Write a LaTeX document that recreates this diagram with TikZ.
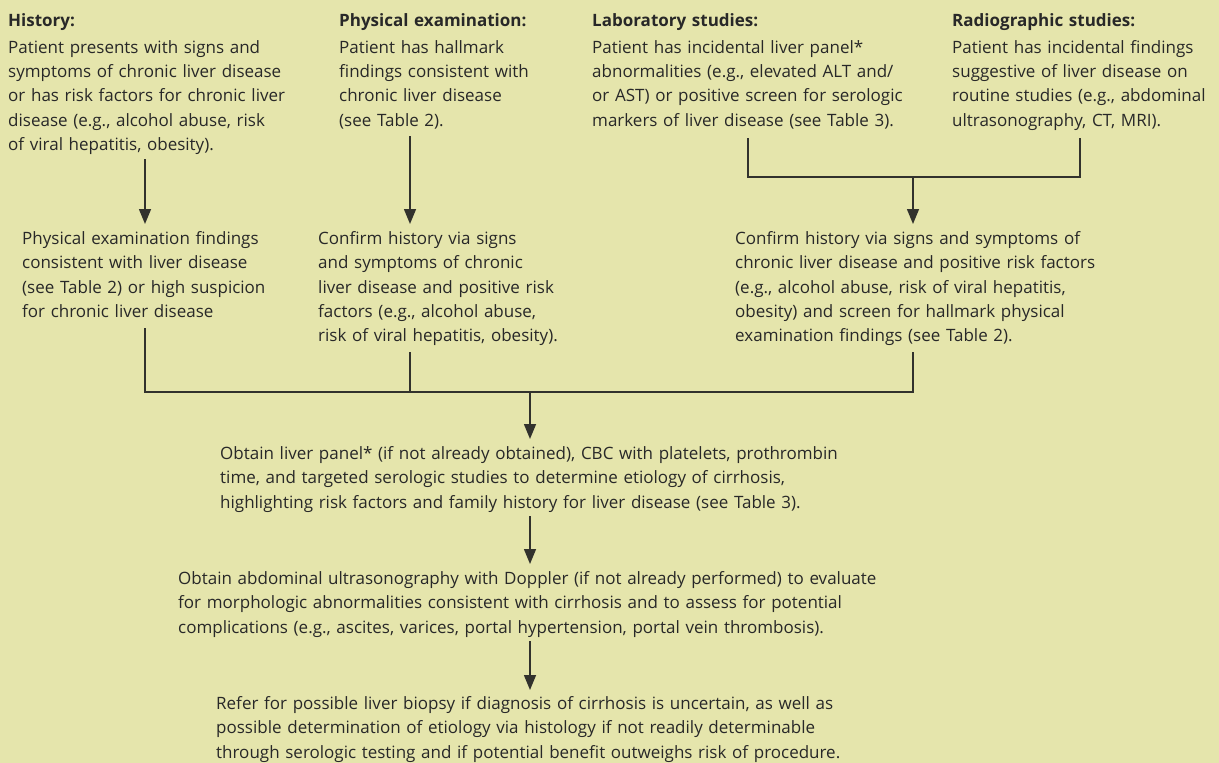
\documentclass[tikz,border=0pt]{standalone}
\usepackage{fontspec}
\setmainfont{Open Sans}
\usetikzlibrary{arrows.meta}
\definecolor{bg}{RGB}{229,229,172}
\definecolor{txt}{RGB}{40,40,40}
\definecolor{ln}{RGB}{50,50,45}
\tikzset{
  txtblock/.style={anchor=base west, inner sep=0pt, align=left, text width=#1,
    text=txt, font=\fontsize{17}{24.25}\selectfont},
  txtblock/.default=460pt,
  conn/.style={draw=ln, line width=1.5pt},
  arr/.style={conn, -{Triangle[length=15pt,width=12pt]}},
}
\newcommand{\hd}[1]{\textbf{#1}\\[2.35pt]}
\begin{document}
\begin{tikzpicture}[x=1pt,y=-1pt]
\path[use as bounding box, fill=bg] (0,0) rectangle (1219,763);

% top row
\node[txtblock=320pt] (hist) at (8,26.7) {\hd{History:}Patient presents with signs and\\symptoms of chronic liver disease\\or has risk factors for chronic liver\\disease (e.g., alcohol abuse, risk\\of viral hepatitis, obesity).};
\node[txtblock=240pt] (phys) at (339,26.7) {\hd{Physical examination:}Patient has hallmark\\findings consistent with\\chronic liver disease\\(see Table 2).};
\node[txtblock=340pt] (lab) at (592,26.7) {\hd{Laboratory studies:}Patient has incidental liver panel*\\abnormalities (e.g., elevated ALT and/\\or AST) or positive screen for serologic\\markers of liver disease (see Table 3).};
\node[txtblock=265pt] (rad) at (952,26.7) {\hd{Radiographic studies:}Patient has incidental findings\\suggestive of liver disease on\\routine studies (e.g., abdominal\\ultrasonography, CT, MRI).};

% second row
\node[txtblock=300pt] (pe) at (22,244.5) {Physical examination findings\\consistent with liver disease\\(see Table 2) or high suspicion\\for chronic liver disease};
\node[txtblock=300pt] (ch) at (318,244.5) {Confirm history via signs\\and symptoms of chronic\\liver disease and positive risk\\factors (e.g., alcohol abuse,\\risk of viral hepatitis, obesity).};
\node[txtblock=440pt] (cr) at (735,244.5) {Confirm history via signs and symptoms of\\chronic liver disease and positive risk factors\\(e.g., alcohol abuse, risk of viral hepatitis,\\obesity) and screen for hallmark physical\\examination findings (see Table 2).};

% lower blocks
\node[txtblock=800pt] (panel) at (220,459.5) {Obtain liver panel* (if not already obtained), CBC with platelets, prothrombin\\time, and targeted serologic studies to determine etiology of cirrhosis,\\highlighting risk factors and family history for liver disease (see Table 3).};
\node[txtblock=860pt] (us) at (178,584.5) {Obtain abdominal ultrasonography with Doppler (if not already performed) to evaluate\\for morphologic abnormalities consistent with cirrhosis and to assess for potential\\complications (e.g., ascites, varices, portal hypertension, portal vein thrombosis).};
\node[txtblock=800pt] (bx) at (216,709.5) {Refer for possible liver biopsy if diagnosis of cirrhosis is uncertain, as well as\\possible determination of etiology via histology if not readily determinable\\through serologic testing and if potential benefit outweighs risk of procedure.};

% connector coordinates
\coordinate (h1) at (145,159);   \coordinate (h2) at (145,224);
\coordinate (p1) at (410,136);   \coordinate (p2) at (410,224);
\coordinate (l1) at (748,138);   \coordinate (r1) at (1080,138);
\coordinate (lr) at (913,177);   \coordinate (lr2) at (913,224);
\coordinate (b1) at (145,328);   \coordinate (b2) at (410,352);
\coordinate (b3) at (913,352);   \coordinate (bm) at (530,392);
\coordinate (bm2) at (530,439);
\coordinate (c1) at (530,516);   \coordinate (c2) at (530,564);
\coordinate (d1) at (530,641);   \coordinate (d2) at (530,690);

\draw[arr] (h1) -- (h2);
\draw[arr] (p1) -- (p2);
\draw[conn] (l1) |- (lr) -| (r1);
\draw[arr] (lr) -- (lr2);
\draw[conn] (b1) |- (bm) -| (b3);
\draw[conn] (b2) -- (b2 |- bm);
\draw[arr] (bm) -- (bm2);
\draw[arr] (c1) -- (c2);
\draw[arr] (d1) -- (d2);
\end{tikzpicture}
\end{document}
